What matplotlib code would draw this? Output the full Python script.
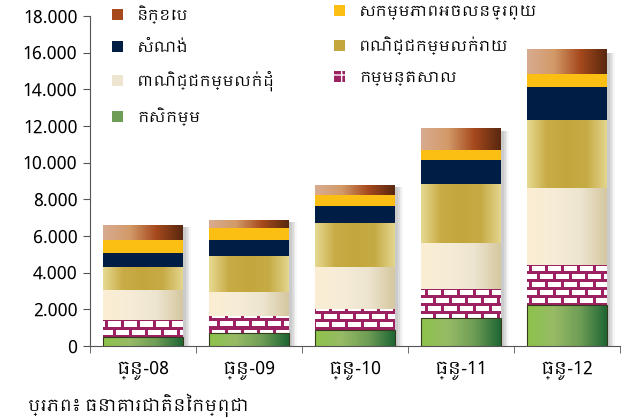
import numpy as np
import matplotlib
matplotlib.use('Agg')
import matplotlib.pyplot as plt
from matplotlib import font_manager as fm
from matplotlib.colors import LinearSegmentedColormap, to_rgb
from matplotlib.patches import Patch
from matplotlib.ticker import FuncFormatter, FixedLocator

# data (values per sector)
categories = ['ធ្នូ-08', 'ធ្នូ-09', 'ធ្នូ-10', 'ធ្នូ-11', 'ធ្នូ-12']
agriculture = [490, 690, 870, 1545, 2240]
manufacturing = [950, 950, 1130, 1580, 2180]
wholesale = [1600, 1300, 2310, 2510, 4220]
retail = [1270, 1970, 2400, 3200, 3690]
construction = [770, 860, 930, 1310, 1820]
real_estate = [710, 670, 600, 540, 710]
mortgage = [820, 420, 540, 1200, 1340]

source_text = 'ប្រភព៖ ធនាគារជាតិនៃកម្ពុជា'

# any Khmer font on the system goes first
khmer = sorted({f.name for f in fm.fontManager.ttflist if 'khmer' in f.name.lower()})
plt.rcParams['font.family'] = khmer[:1] + ['Lato', 'DejaVu Sans']

fig = plt.figure(figsize=(6.31, 4.18), dpi=100)
ax = fig.add_axes([90/631, 72/418, 530/631, 330/418])

x = np.arange(len(categories))
w = 0.75

# name, values, colours (gradient left->right), label
series = [
    ('agri', agriculture, ['#8dc34a', '#97bb66', '#6e9d55', '#1f6634'], 'កសិកម្ម'),
    ('manu', manufacturing, None, 'កម្មន្តសាល'),
    ('whole', wholesale, ['#fbeed3', '#f6ecd7', '#ede5d0', '#d5c79f'], 'ពាណិជ្ជកម្មលក់ដុំ'),
    ('retail', retail, ['#e6da92', '#c8ab45', '#c3a73d', '#c6ab45', '#e4d68e'], 'ពណិជ្ជកម្មលក់រាយ'),
    ('constr', construction, ['#001e45'], 'សំណង់'),
    ('real', real_estate, ['#fbbf13'], 'សកម្មភាពអចលនទ្រព្យ'),
    ('mort', mortgage, ['#d8ab91', '#d39a69', '#a6491d', '#58280f'], 'និក្ខេប'),
]

totals = np.sum([s[1] for s in series], axis=0)

# soft grey shadow to the right of each bar
for off, a in [(0.03, 0.16), (0.045, 0.14), (0.06, 0.10), (0.075, 0.07)]:
    ax.bar(x + off, totals * 0.985, width=w, color='#808080', alpha=a,
           linewidth=0, zorder=1)

# brick texture in pixel units, laid over the whole axes
H, W = 330, 530
brick = np.ones((H, W, 3)) * np.array(to_rgb('#9c2160'))
for r in range(0, H, 8):
    shift = 0 if (r // 8) % 2 == 0 else 8
    for c in range(-16 + shift, W, 16):
        brick[r + 2:r + 7, max(c + 2, 0):max(c + 15, 0)] = 1.0

bottom = np.zeros(len(categories))
for name, vals, cols, lab in series:
    bars = ax.bar(x, vals, width=w, bottom=bottom, zorder=2, linewidth=0,
                  color='#9c2160' if cols is None else cols[len(cols) // 2])
    for b in bars:
        if cols is None:
            im = ax.imshow(brick, extent=[-0.5, 4.5, 0, 18000], origin='upper',
                           aspect='auto', zorder=3, interpolation='nearest')
            im.set_clip_path(b)
        elif len(cols) > 1:
            cmap = LinearSegmentedColormap.from_list(name, cols)
            x0, y0 = b.get_x(), b.get_y()
            im = ax.imshow(np.linspace(0, 1, 256)[None, :], cmap=cmap, aspect='auto',
                           extent=[x0, x0 + b.get_width(), y0, y0 + b.get_height()],
                           zorder=3)
            im.set_clip_path(b)
        if name == 'agri':
            ax.add_patch(plt.Rectangle((b.get_x(), b.get_y()), b.get_width(), b.get_height(),
                                       fill=False, edgecolor='#333d1c', linewidth=0.8, zorder=4))
    bottom += np.array(vals)

ax.set_xlim(-0.5, 4.5)
ax.set_ylim(0, 18000)
ax.set_yticks(np.arange(0, 18001, 2000))
ax.yaxis.set_major_formatter(FuncFormatter(lambda v, p: f'{v:,.0f}'.replace(',', '.')))
ax.set_xticks(x)
ax.set_xticklabels(categories)
ax.xaxis.set_minor_locator(FixedLocator(np.arange(-0.5, 4.6, 1)))
ax.tick_params(axis='x', which='major', length=0, pad=11, labelsize=13)
ax.tick_params(axis='x', which='minor', length=5, direction='out', color='#555555')
ax.tick_params(axis='y', length=5, direction='out', labelsize=13, color='#555555', pad=4)
for s in ['top', 'right']:
    ax.spines[s].set_visible(False)
for s in ['left', 'bottom']:
    ax.spines[s].set_color('#555555')

# legend: two separate one-column blocks placed where the reference has them
lookup = {s[0]: s for s in series}


def make_handles(keys):
    out = []
    for key in keys:
        name, vals, cols, lab = lookup[key]
        if cols is None:
            out.append(Patch(facecolor='#9c2160', edgecolor='white', hatch='+',
                             linewidth=0, label=lab))
        else:
            out.append(Patch(facecolor=cols[len(cols) // 2], linewidth=0, label=lab))
    return out


leg_kw = dict(frameon=False, loc='upper left', fontsize=11, handlelength=0.75,
              handleheight=0.75, labelspacing=1.05, handletextpad=0.9,
              borderpad=0, borderaxespad=0)
leg1 = ax.legend(handles=make_handles(['mort', 'constr', 'whole', 'agri']),
                 bbox_to_anchor=(112/631, 1 - 5/418), bbox_transform=fig.transFigure, **leg_kw)
ax.add_artist(leg1)
ax.legend(handles=make_handles(['real', 'retail', 'manu']),
          bbox_to_anchor=(334/631, 1 - 5/418), bbox_transform=fig.transFigure, **leg_kw)

fig.text(28/631, 1 - 405/418, source_text, fontsize=12, va='center')

fig.savefig('out.png', dpi=100)
